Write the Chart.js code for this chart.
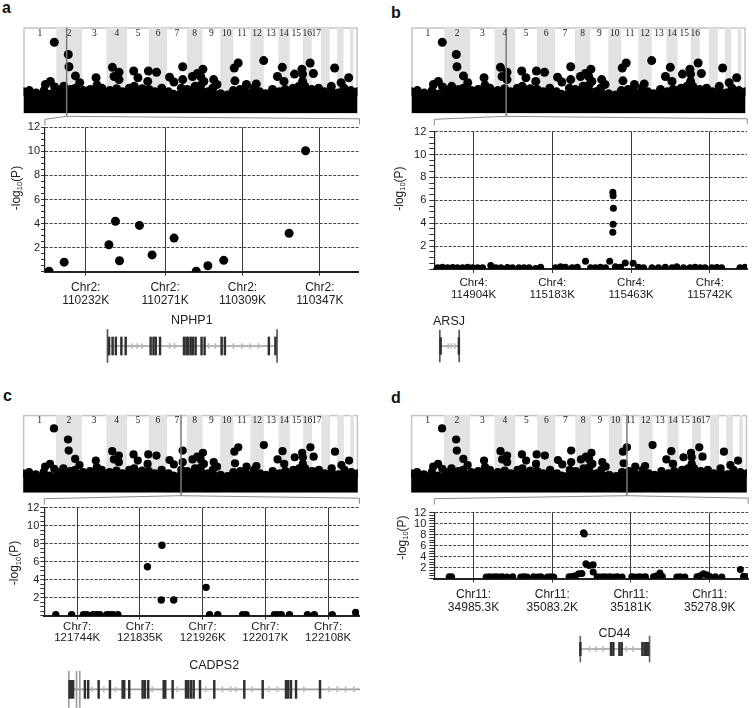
<!DOCTYPE html>
<html>
<head>
<meta charset="utf-8">
<script src="https://cdn.jsdelivr.net/npm/chart.js"></script>
<style>
  html, body { margin: 0; padding: 0; background: #fff; overflow: hidden; }
  #fig { position: relative; width: 752px; height: 708px; }
  #fig canvas { position: absolute; }
  .tag { position: absolute; font: bold 16px "Liberation Sans", Arial, sans-serif; line-height: 16px; color: #111; }
</style>
</head>
<body>
<div id="fig"></div>
<script>
// ---- genome-wide overview (same scan in every panel) ----
// chromosome edges on the genome axis (cumulative marker index, thousands)
const chromEdges = [0, 33.4, 59.7, 84.7, 105.7, 128, 146.4, 166.7, 182.4, 200.7, 214, 231.4, 245, 260,
  271.4, 285, 294, 303.4, 312.4, 319.7, 326.4, 333, 336.7, 340.7];
const chromNames = ['1', '2', '3', '4', '5', '6', '7', '8', '9', '10', '11', '12', '13', '14', '15', '16', '17'];
// upper edge of the dense band of markers
const bandPos = [0, 6, 13, 21, 27, 35, 41, 48, 53, 61, 68, 75, 80, 88, 95, 101, 108, 113, 121, 128, 134, 141,
  148, 153, 161, 167, 175, 181, 188, 193, 201, 208, 214, 221, 227, 235, 241, 247, 254, 261, 267, 275, 281,
  287, 294, 301, 307, 314, 321, 327, 334, 340.7];
const bandLogP = [3.5, 3.7, 3.3, 3.7, 3.1, 3.7, 4.4, 3.9, 4.1, 3.7, 3.9, 4.6, 4.1, 3.7, 4.0, 3.5, 4.1, 4.4,
  4.0, 3.9, 3.5, 4.1, 3.5, 3.1, 4.1, 3.9, 4.4, 4.6, 3.5, 4.1, 3.2, 3.0, 3.7, 3.9, 3.5, 4.1, 3.5, 3.2, 3.9,
  3.5, 3.9, 4.1, 4.4, 4.4, 3.9, 4.1, 3.5, 3.7, 3.3, 4.1, 3.7, 3.5];
// markers standing out above the band
const peakPos = [31.4, 45.7, 46.4, 53, 27.4, 31.7, 22.4, 57.4, 74, 90.7, 97.4, 92.4, 97.4, 112.4, 116.7,
  127.4, 135.7, 126.7, 149, 153.4, 162.4, 162.4, 172.4, 177.4, 183, 180.7, 184, 194, 197.4, 215, 219, 215.7,
  227.4, 245, 237.4, 259, 264, 265.7, 276.4, 284, 284.7, 292.4, 295.7, 284.7, 317.4, 331.7, 314, 324];
const peakLogP = [11.6, 9.6, 7.6, 6.1, 5.2, 4.3, 4.7, 5.0, 5.8, 7.5, 6.7, 6.0, 5.5, 6.9, 5.8, 6.9, 6.7, 5.2,
  5.9, 5.1, 7.6, 5.5, 6.0, 6.5, 7.2, 6.0, 5.2, 5.5, 4.7, 7.4, 8.2, 5.3, 4.7, 8.6, 4.8, 6.0, 7.5, 5.2, 6.4,
  7.2, 6.4, 8.2, 6.5, 5.2, 7.4, 5.8, 4.4, 5.0];
const GENOME_MAX_LOGP = 14;

// ---- regional plots (kb) ----
const yTickVals = [0, 0.5, 1, 1.5, 2, 2.5, 3, 3.5, 4, 4.5, 5, 5.5, 6, 6.5, 7, 7.5, 8, 8.5, 9, 9.5, 10, 10.5, 11, 11.5, 12];

const aTicks = [110232, 110271, 110309, 110347];
const aPos = [110214, 110221.4, 110243.4, 110246.6, 110248.6, 110258.4, 110264.6, 110275.4, 110286.3, 110292, 110299.8, 110331.9, 110340];
const aLogP = [0.05, 0.8, 2.25, 4.2, 0.92, 3.85, 1.4, 2.8, 0.05, 0.5, 0.95, 3.2, 10.05];

const bTicks = [114904, 115183, 115463, 115742];
const bPos = [114777, 114794, 114812, 114830, 114847, 114865, 114883, 114900, 114918, 114936, 114965, 114983,
  115001, 115024, 115042, 115065, 115083, 115101, 115124, 115142, 115195, 115213, 115230, 115254, 115272,
  115301, 115319, 115336, 115354, 115372, 115387, 115398, 115399, 115400, 115399, 115398, 115407, 115425,
  115442, 115470, 115489, 115507, 115537, 115560, 115584, 115608, 115625, 115649, 115672, 115690, 115708,
  115725, 115749, 115767, 115784, 115849, 115867];
const bLogP = [0.12, 0.15, 0.1, 0.14, 0.1, 0.12, 0.15, 0.1, 0.12, 0.1, 0.3, 0.12, 0.1, 0.14, 0.1, 0.12, 0.1,
  0.1, 0.05, 0.15, 0.1, 0.2, 0.15, 0.12, 0.15, 0.68, 0.12, 0.1, 0.15, 0.12, 0.68, 6.7, 6.4, 5.3, 3.9, 3.2,
  0.2, 0.15, 0.53, 0.5, 0.15, 0.1, 0.12, 0.1, 0.15, 0.1, 0.2, 0.12, 0.1, 0.15, 0.1, 0.12, 0.1, 0.14, 0.12, 0.1, 0.15];

const cTicks = [121744, 121835, 121926, 122017, 122108];
const cPos = [121713, 121736, 121753, 121758, 121767, 121772, 121777, 121787, 121791, 121796, 121803, 121846,
  121866, 121867, 121884, 121931, 121936, 121948, 121984, 121989, 122030, 122035, 122040, 122052, 122078,
  122088, 122114, 122148];
const cLogP = [0.1, 0.1, 0.1, 0.1, 0.1, 0.1, 0.1, 0.1, 0.1, 0.1, 0.1, 5.44, 1.74, 7.82, 1.74, 3.15, 0.1, 0.1,
  0.1, 0.1, 0.1, 0.1, 0.1, 0.1, 0.1, 0.1, 0.1, 0.35];

const dTicks = [34985.3, 35083.2, 35181, 35278.9];
const dPos = [34955, 34958, 35001, 35005, 35009, 35013, 35017, 35021, 35027, 35034, 35044, 35048, 35052,
  35060, 35065, 35069, 35077, 35081, 35085, 35104, 35108, 35112, 35116, 35120, 35122, 35123, 35125, 35129,
  35134, 35134, 35139, 35143, 35147, 35151, 35155, 35160, 35164, 35170, 35182, 35186, 35191, 35195, 35199,
  35209, 35213, 35217, 35220, 35238, 35242, 35248, 35263, 35267, 35271, 35275, 35279, 35286, 35294, 35317,
  35321, 35325];
const dLogP = [0.35, 0.35, 0.3, 0.35, 0.3, 0.35, 0.3, 0.35, 0.3, 0.35, 0.3, 0.35, 0.3, 0.35, 0.3, 0.35, 0.3,
  0.35, 0.3, 0.35, 0.4, 0.5, 0.9, 0.95, 8.33, 8.1, 2.7, 2.4, 2.5, 1.2, 0.35, 0.3, 0.35, 0.3, 0.35, 0.3, 0.35,
  0.3, 0.35, 0.3, 0.35, 0.3, 0.35, 0.35, 0.5, 1.0, 0.4, 0.3, 0.35, 0.3, 0.35, 0.5, 0.9, 0.7, 0.4, 0.35, 0.3,
  1.65, 0.45, 0.35];

// ---- gene models (kb; single value = short exon) ----
const nphp1Span = [110242.3, 110325.2];
const nphp1Exons = [110242.9, 110244.6, 110246.2, 110248.9, 110251, 110263.2, 110264.6, 110265.7, 110267.8,
  110279.5, 110280.7, 110281.6, 110282.8, 110283.9, 110285.2, 110288.1, 110289.6, 110297.9, 110299.5, 110321, 110324.2];
const nphp1Arrows = [110254.3, 110256.8, 110259.2, 110272.7, 110275.1, 110291.7, 110295, 110303.9, 110308, 110312.1, 110316.1];

const arsjSpan = [114782.4, 114851];
const arsjExons = [[114784, 114788], 114848.5];
const arsjArrows = [114812, 114823, 114835];

const cadps2Span = [121731, 122152.8];
const cadps2Ends = [121731, 121742.2, 121746.9];
const cadps2Exons = [[121731.5, 121739.3], 121753.7, 121758.5, 121773.6, 121789.9, 121808.3, 121810.6, 121817.8,
  121837.2, 121840.5, 121845.3, 121867.6, 121869.9, 121880.6, 121899.9, 121903.2, 121907.1, 121911, 121920.1,
  121940.8, 121984.2, 122010.8, 122044.5, 122047.8, 122051.7, 122059, 122093.7];
const cadps2Arrows = [121764.9, 121781.7, 121798.6, 121851.7, 121887.8, 121928.8, 121953, 121965, 121972.2,
  121996.3, 122020.4, 122032.5, 122071, 122107.2, 122119.2, 122131.3, 122143.2];

const cd44Span = [35117, 35202.9];
const cd44Exons = [[35116.6, 35118.4], 35154.6, 35157.5, 35165, 35167.8, 35193.5, [35196.3, 35202.9]];
const cd44Arrows = [35128.5, 35136.8, 35145.1, 35174, 35182.3];

// ---- layout of the four panels (page pixels) ----
const panels = [
  { tag: 'a', tagAt: [2, 0], box: [19.3, 24, 360, 113.3], dot: 4.5, marker: 44, nLabels: 17,
    plot: [45, 127.3, 360, 271.8], yAxisW: 37, yTick: 4, yPad: 1, titleDx: 28.3, titleDy: -11.5,
    xPad: 5, xFont: 12, xLine: 13, chr: 'Chr2', xRange: [110212, 110366], ticks: aTicks, pos: aPos, logp: aLogP, r: 4.5,
    gene: { name: 'NPHP1', y: 346, span: nphp1Span, ends: nphp1Span, exons: nphp1Exons, arrows: nphp1Arrows,
      exonH: 18, endH: 33, labelDy: 25, endColor: '#555' } },
  { tag: 'b', tagAt: [391, 5], box: [407.7, 24, 747.7, 113.3], dot: 4.5, marker: 96.6, nLabels: 16,
    plot: [434.3, 130.7, 747.7, 269], yAxisW: 43, yTick: 5, yPad: 3, titleDx: 35, titleDy: -11.7,
    xPad: 4, xFont: 11.5, xLine: 12, chr: 'Chr4', xRange: [114764.7, 115874], ticks: bTicks, pos: bPos, logp: bLogP, r: 3.5,
    gene: { name: 'ARSJ', y: 346, span: arsjSpan, ends: arsjSpan, exons: arsjExons, arrows: arsjArrows,
      exonH: 17, endH: 32, labelDy: 24.7, endColor: '#555' } },
  { tag: 'c', tagAt: [3, 388.2], box: [19.3, 412.7, 360, 492.7], dot: 4.1, marker: 160.7, nLabels: 17,
    plot: [44.3, 507.7, 360, 615.7], yAxisW: 38, yTick: 4, yPad: 1, titleDx: 29.3, titleDy: 1.3,
    xPad: 1, xFont: 11.5, xLine: 11.5, chr: 'Chr7', xRange: [121696.3, 122152.8], ticks: cTicks, pos: cPos, logp: cLogP, r: 3.7,
    gene: { name: 'CADPS2', y: 689.3, span: cadps2Span, ends: cadps2Ends, exons: cadps2Exons, arrows: cadps2Arrows,
      exonH: 18, endH: 36, labelDy: 23.3, endColor: '#9a9a9a' } },
  { tag: 'd', tagAt: [391, 389.8], box: [407.7, 412.7, 748.7, 492.7], dot: 4.1, marker: 219, nLabels: 17,
    plot: [434.3, 511, 748.7, 578.6], yAxisW: 40, yTick: 5, yPad: 3, titleDx: 31.6, titleDy: -8,
    xPad: 5.5, xFont: 12, xLine: 13, chr: 'Chr11', xRange: [34936.5, 35326.5], ticks: dTicks, pos: dPos, logp: dLogP, r: 3.5,
    gene: { name: 'CD44', y: 649, span: cd44Span, ends: cd44Span, exons: cd44Exons, arrows: cd44Arrows,
      exonH: 13.4, endH: 26, labelDy: 15.7, endColor: '#666' } }
];

const FONT = '"Liberation Sans", Arial, sans-serif';
const fig = document.getElementById('fig');

// canvas around a wanted chart area [l, t, r, b] with margins m
function place(rect, m) {
  const cl = Math.floor(rect[0] - m.l), ct = Math.floor(rect[1] - m.t);
  const cr = Math.ceil(rect[2] + m.r), cb = Math.ceil(rect[3] + m.b);
  const c = document.createElement('canvas');
  c.width = cr - cl; c.height = cb - ct;
  c.style.left = cl + 'px'; c.style.top = ct + 'px';
  fig.appendChild(c);
  return { canvas: c, left: cl, top: ct,
    pad: { left: rect[0] - cl, top: rect[1] - ct, right: cr - rect[2], bottom: cb - rect[3] } };
}

const base = { responsive: false, animation: false, devicePixelRatio: 1, events: [],
  plugins: { legend: { display: false }, tooltip: { enabled: false } } };

function genomeChart(p) {
  const g = place(p.box, { l: 0, t: 1, r: 2, b: 14 });
  const stripes = [{ x: chromEdges[0], y: 0 }];
  for (let i = 1; i < chromEdges.length - 1; i += 2) {
    const s = chromEdges[i], e = chromEdges[i + 1];
    stripes.push({ x: s, y: 0 }, { x: s, y: GENOME_MAX_LOGP }, { x: e, y: GENOME_MAX_LOGP }, { x: e, y: 0 });
  }
  const decor = {
    id: 'genomeDecor',
    beforeDatasetsDraw(chart) {
      const { ctx, chartArea: a } = chart;
      ctx.save();
      ctx.strokeStyle = '#c4c4c4'; ctx.lineWidth = 1.5;
      ctx.strokeRect(a.left + 0.5, a.top + 0.5, a.width - 1, a.height - 1);
      ctx.restore();
    },
    afterDatasetsDraw(chart) {
      const { ctx, chartArea: a, scales: { x } } = chart;
      ctx.save();
      ctx.fillStyle = '#222';
      ctx.font = '9.5px "Liberation Serif", serif';
      ctx.textAlign = 'center'; ctx.textBaseline = 'middle';
      for (let i = 0; i < p.nLabels; i++) {
        ctx.fillText(chromNames[i], x.getPixelForValue((chromEdges[i] + chromEdges[i + 1]) / 2), a.top + 5.5);
      }
      const mx = x.getPixelForValue(p.marker);
      const lx = p.plot[0] - g.left, rx = p.plot[2] - g.left;
      ctx.strokeStyle = '#7a7a7a'; ctx.lineWidth = 1.5;
      ctx.beginPath(); ctx.moveTo(mx, a.top); ctx.lineTo(mx, a.bottom + 3); ctx.stroke();
      ctx.strokeStyle = '#8a8a8a'; ctx.lineWidth = 1;
      ctx.beginPath();
      ctx.moveTo(lx, a.bottom + 12); ctx.lineTo(lx, a.bottom + 6); ctx.lineTo(mx, a.bottom + 3);
      ctx.lineTo(rx - 0.5, a.bottom + 5.5); ctx.lineTo(rx - 0.5, a.bottom + 11);
      ctx.stroke();
      ctx.restore();
    }
  };
  new Chart(g.canvas, {
    type: 'scatter',
    data: { datasets: [
      { data: peakPos.map((v, i) => ({ x: v, y: peakLogP[i] })), backgroundColor: '#000', borderWidth: 0,
        pointRadius: p.dot, clip: 0 },
      { data: bandPos.map((v, i) => ({ x: v, y: bandLogP[i] })), showLine: true, fill: 'origin',
        backgroundColor: '#000', borderColor: '#000', borderWidth: 1, pointRadius: p.dot, pointBorderWidth: 0, clip: 0 },
      { data: stripes, showLine: true, fill: 'origin', backgroundColor: '#e2e2e2', borderWidth: 0,
        pointRadius: 0, clip: 0 }
    ] },
    options: Object.assign({}, base, {
      layout: { padding: g.pad },
      scales: {
        x: { type: 'linear', display: false, min: chromEdges[0], max: chromEdges[chromEdges.length - 1] },
        y: { display: false, min: 0, max: GENOME_MAX_LOGP }
      }
    }),
    plugins: [decor]
  });
}

function regionChart(p) {
  const g = place(p.plot, { l: p.yAxisW, t: 8, r: 3, b: 38 });
  const yTitle = {
    id: 'yTitle',
    afterDraw(chart) {
      const { ctx, chartArea: a } = chart;
      ctx.save();
      ctx.translate(a.left - p.titleDx, (a.top + a.bottom) / 2 + p.titleDy);
      ctx.rotate(-Math.PI / 2);
      ctx.fillStyle = '#222'; ctx.textBaseline = 'middle';
      const big = '12px ' + FONT, small = '7.5px ' + FONT;
      ctx.font = big;
      const w1 = ctx.measureText('-log').width, w3 = ctx.measureText('(P)').width;
      ctx.font = small;
      const w2 = ctx.measureText('10').width;
      const s = -(w1 + w2 + w3) / 2;
      ctx.font = big; ctx.fillText('-log', s, 0);
      ctx.font = small; ctx.fillText('10', s + w1, 3.5);
      ctx.font = big; ctx.fillText('(P)', s + w1 + w2, 0);
      ctx.restore();
    }
  };
  new Chart(g.canvas, {
    type: 'scatter',
    data: { datasets: [{ data: p.pos.map((v, i) => ({ x: v, y: p.logp[i] })), backgroundColor: '#000',
      borderWidth: 0, pointRadius: p.r, clip: 0 }] },
    options: Object.assign({}, base, {
      layout: { padding: { top: g.pad.top, right: g.pad.right, left: 0, bottom: 0 } },
      scales: {
        x: {
          type: 'linear', min: p.xRange[0], max: p.xRange[1],
          afterBuildTicks: s => { s.ticks = p.ticks.map(v => ({ value: v })); },
          afterFit: s => { s.height = g.pad.bottom; },
          ticks: { autoSkip: false, maxRotation: 0, padding: p.xPad, color: '#222',
            font: { family: FONT, size: p.xFont, lineHeight: p.xLine + 'px' },
            callback: v => [p.chr + ':', v + 'K'] },
          grid: { color: '#3a3a3a', lineWidth: 1, tickLength: 4, tickColor: '#3a3a3a' },
          border: { color: '#222', width: 2 }
        },
        y: {
          min: 0, max: 12,
          afterBuildTicks: s => { s.ticks = yTickVals.map(v => ({ value: v })); },
          afterFit: s => { s.width = g.pad.left; },
          ticks: { autoSkip: false, padding: p.yPad, color: '#222', font: { family: FONT, size: 11 },
            callback: v => (v > 0 && v % 2 === 0) ? String(v) : '' },
          grid: { color: c => (c.tick && c.tick.value > 0 && c.tick.value % 2 === 0) ? '#444' : 'rgba(0,0,0,0)',
            tickColor: '#333', tickLength: p.yTick },
          border: { color: '#222', width: 1.2, dash: [3, 1.5] }
        }
      }
    }),
    plugins: [yTitle]
  });
}

function geneChart(p) {
  const gm = p.gene;
  const g = place([p.plot[0], gm.y - 36, p.plot[2], gm.y + 36], { l: 1, t: 0, r: 1, b: 0 });
  const bars = (list, thick, color, minLen) => ({
    data: list.map(e => ({ x: Array.isArray(e) ? e : [e, e], y: 'g' })),
    barThickness: thick, backgroundColor: color, borderWidth: 0, minBarLength: minLen, grouped: false
  });
  const label = {
    id: 'geneLabel',
    afterDraw(chart) {
      const { ctx, scales: { x, y } } = chart;
      const cx = (x.getPixelForValue(gm.span[0]) + Math.min(x.getPixelForValue(gm.span[1]), chart.chartArea.right)) / 2;
      ctx.save();
      ctx.fillStyle = '#222'; ctx.font = '12.5px ' + FONT;
      ctx.textAlign = 'center'; ctx.textBaseline = 'middle';
      ctx.fillText(gm.name, cx, y.getPixelForValue(0) - gm.labelDy);
      ctx.restore();
    }
  };
  new Chart(g.canvas, {
    type: 'bar',
    data: { labels: ['g'], datasets: [
      bars(gm.exons, gm.exonH, '#303030', 1.8),
      bars(gm.ends, gm.endH, gm.endColor, 1),
      bars(gm.arrows, 5, '#b8b8b8', 1),
      bars([gm.span], 1, '#9c9c9c', 1)
    ] },
    options: Object.assign({}, base, {
      indexAxis: 'y',
      layout: { padding: g.pad },
      scales: {
        x: { type: 'linear', display: false, min: p.xRange[0], max: p.xRange[1] },
        y: { display: false }
      }
    }),
    plugins: [label]
  });
}

panels.forEach(p => {
  const t = document.createElement('div');
  t.className = 'tag'; t.textContent = p.tag;
  t.style.left = p.tagAt[0] + 'px'; t.style.top = p.tagAt[1] + 'px';
  fig.appendChild(t);
  regionChart(p);
  genomeChart(p);
  geneChart(p);
});
</script>
</body>
</html>
